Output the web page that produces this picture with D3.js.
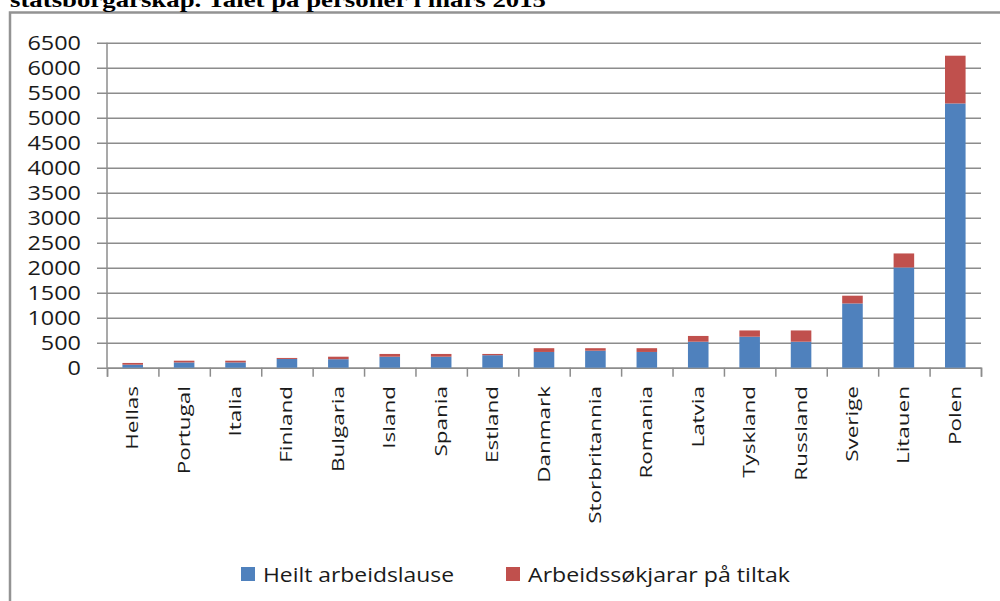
<!DOCTYPE html>
<html>
<head>
<meta charset="utf-8">
<script src="https://cdn.jsdelivr.net/npm/d3@7"></script>
<style>
  body { margin: 0; background: #fff; }
  svg { display: block; }
</style>
</head>
<body>
<svg id="chart" width="1000" height="601"></svg>
<script>
// data
var countries = ["Hellas", "Portugal", "Italia", "Finland", "Bulgaria", "Island", "Spania", "Estland",
  "Danmark", "Storbritannia", "Romania", "Latvia", "Tyskland", "Russland", "Sverige", "Litauen", "Polen"];
var heiltArbeidslause = [60, 105, 105, 175, 170, 220, 220, 250, 315, 340, 315, 520, 620, 520, 1285, 2005, 5285];
var paaTiltak = [35, 35, 35, 20, 50, 55, 55, 25, 75, 50, 75, 115, 125, 225, 155, 280, 955];
var seriesNames = ["Heilt arbeidslause", "Arbeidssøkjarar på tiltak"];
var seriesColors = ["#4f81bd", "#c0504d"];
var yTicks = d3.range(0, 6501, 500);
var title = "statsborgarskap. Talet på personer i mars 2015";

var svg = d3.select("#chart");
var plotL = 107, plotR = 981, plotT = 42.7, plotB = 367.7;
var gridColor = "#8c8c8c";

// outer frame + cut off title
svg.append("rect")
  .attr("x", 10).attr("y", 12.5)
  .attr("width", 1100).attr("height", 700)
  .attr("fill", "none").attr("stroke", "#939393").attr("stroke-width", 2.5);

svg.append("text")
  .attr("x", 10).attr("y", 6.5)
  .attr("font-family", "Liberation Serif, Times New Roman, serif")
  .attr("font-weight", "bold")
  .attr("font-size", 22)
  .attr("textLength", 536)
  .attr("lengthAdjust", "spacingAndGlyphs")
  .text(title);

var x = d3.scaleBand()
  .domain(countries)
  .range([plotL, plotR])
  .paddingInner(0.6)
  .paddingOuter(0.3);

var xIdx = d3.scaleLinear().domain([0, countries.length]).range([plotL, plotR]);

var y = d3.scaleLinear().domain([0, 6500]).range([plotB, plotT]);

// gridlines with labels (axis sits on the right end, ticks run leftwards past the axis)
var yAxis = svg.append("g")
  .attr("transform", "translate(" + plotR + ",0)")
  .call(d3.axisLeft(y).tickValues(yTicks).tickFormat(d3.format("d"))
    .tickSizeInner(plotR - 97).tickSizeOuter(0).tickPadding(16));
yAxis.select(".domain").remove();
yAxis.selectAll(".tick line").attr("stroke", gridColor).attr("stroke-width", 1.5);
yAxis.selectAll(".tick text")
  .attr("font-family", "Open Sans, sans-serif")
  .attr("font-size", 20)
  .attr("fill", "#1a1a1a")
  .attr("textLength", function(d) { return String(d).length * 13.4; })
  .attr("lengthAdjust", "spacingAndGlyphs");

// vertical axis line
svg.append("line")
  .attr("x1", plotL).attr("x2", plotL)
  .attr("y1", plotT).attr("y2", plotB)
  .attr("stroke", gridColor).attr("stroke-width", 1.5);

// category boundary ticks
var xAxis = svg.append("g")
  .attr("transform", "translate(0," + plotB + ")")
  .call(d3.axisBottom(xIdx).tickValues(d3.range(countries.length + 1)).tickSize(9).tickFormat(""));
xAxis.select(".domain").attr("stroke", gridColor).attr("stroke-width", 1.5);
xAxis.selectAll(".tick line").attr("stroke", gridColor).attr("stroke-width", 1.5);

// stacked bars
var rows = countries.map(function(c, i) {
  return { land: c, a: heiltArbeidslause[i], b: paaTiltak[i] };
});
var stack = d3.stack().keys(["a", "b"])(rows);

svg.append("g").selectAll("g")
  .data(stack)
  .join("g")
  .attr("fill", function(d, i) { return seriesColors[i]; })
  .selectAll("rect")
  .data(function(d) { return d; })
  .join("rect")
  .attr("x", function(d) { return x(d.data.land); })
  .attr("width", x.bandwidth())
  .attr("y", function(d) { return y(d[1]); })
  .attr("height", function(d) { return y(d[0]) - y(d[1]); });

// rotated category labels
svg.append("g").selectAll("text")
  .data(countries)
  .join("text")
  .attr("transform", function(d) {
    return "translate(" + (x(d) + x.bandwidth() / 2 + 5.5) + ",386) rotate(-90) scale(1.45,1)";
  })
  .attr("text-anchor", "end")
  .attr("font-family", "Open Sans, sans-serif")
  .attr("font-size", 15.5)
  .attr("fill", "#1a1a1a")
  .text(function(d) { return d; });

// legend
var legendX = [241, 506];
var legend = svg.append("g").selectAll("g")
  .data(seriesNames)
  .join("g")
  .attr("transform", function(d, i) { return "translate(" + legendX[i] + ",567)"; });
legend.append("rect")
  .attr("width", 14).attr("height", 14)
  .attr("fill", function(d, i) { return seriesColors[i]; });
legend.append("text")
  .attr("x", 22).attr("y", 14.5)
  .attr("font-family", "Open Sans, sans-serif")
  .attr("font-size", 20)
  .attr("fill", "#1a1a1a")
  .attr("textLength", function(d, i) { return i === 0 ? 191 : 262; })
  .attr("lengthAdjust", "spacingAndGlyphs")
  .text(function(d) { return d; });
</script>
</body>
</html>
